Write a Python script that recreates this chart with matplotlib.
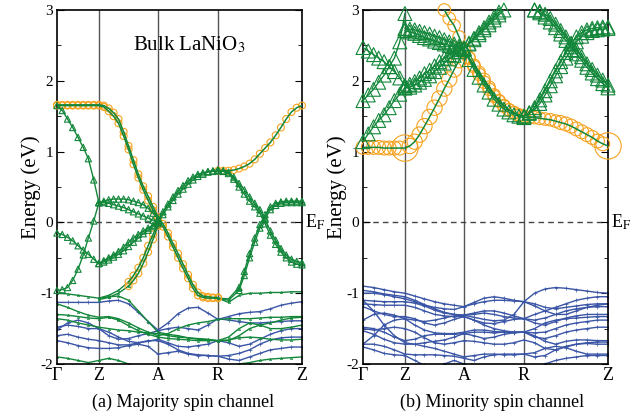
import matplotlib
matplotlib.use('Agg')
import matplotlib.pyplot as plt
import matplotlib.transforms as mtransforms
from matplotlib.ticker import MultipleLocator

plt.rcParams['font.family'] = ['Liberation Serif', 'DejaVu Serif']
plt.rcParams['mathtext.fontset'] = 'stix'
plt.rcParams['axes.unicode_minus'] = False

# k-path sampling along Gamma-Z-A-R-Z (fine grid for the weighted bands)
K_FINE = [0.0, 0.0214, 0.043, 0.064, 0.086, 0.107, 0.128, 0.150, 0.171,
          0.191, 0.211, 0.231, 0.251, 0.272, 0.292, 0.312, 0.332, 0.352, 0.372, 0.392, 0.412,
          0.4325, 0.453, 0.4735, 0.494, 0.5145, 0.535, 0.555, 0.575, 0.5955, 0.616, 0.6365, 0.657,
          0.6785, 0.700, 0.7215, 0.743, 0.7645, 0.786, 0.807, 0.828, 0.8495, 0.871, 0.8925,
          0.914, 0.9355, 0.957, 0.9785, 1.0]
K = K_FINE[::2]
SYM_IDX = [0, 8, 20, 32, 48]
SYM_LABELS = ['Γ', 'Z', 'A', 'R', 'Z']

# ---- majority spin ----
# weighted bands on K_FINE: (start index, energies in eV)
maj_circles = [
    (0, [1.65, 1.65, 1.65, 1.65, 1.65, 1.65, 1.65, 1.65, 1.65,
         1.63, 1.57, 1.50, 1.40, 1.22, 1.03, 0.82, 0.63, 0.46, 0.31, 0.17, 0.05,
         -0.06, -0.20, -0.35, -0.50, -0.65, -0.79, -0.93, -1.03, -1.06, -1.07, -1.07, -1.07]),
    (0, [1.66, 1.66, 1.66, 1.66, 1.66, 1.66, 1.66, 1.66, 1.66,
         1.65, 1.61, 1.55, 1.46, 1.28, 1.08, 0.88, 0.68, 0.51, 0.37, 0.22, 0.08,
         -0.02, -0.15, -0.30, -0.44, -0.59, -0.74, -0.88, -0.99, -1.04, -1.05, -1.06, -1.06]),
    (14, [-0.84, -0.75, -0.64, -0.50, -0.33, -0.17, -0.02]),
    (14, [-0.90, -0.82, -0.72, -0.58, -0.42, -0.24, -0.05]),
    (32, [0.73, 0.73, 0.73, 0.74, 0.76, 0.79, 0.83, 0.89, 0.97, 1.05, 1.13, 1.23, 1.34,
          1.46, 1.56, 1.62, 1.65]),
]
maj_tris = [
    (0, [1.65, 1.58, 1.46, 1.34, 1.20, 1.06, 0.90, 0.60, 0.28]),
    (0, [-0.96, -0.95, -0.92, -0.82, -0.66, -0.46, -0.22, 0.02, 0.28]),
    (0, [-0.15, -0.17, -0.21, -0.26, -0.33, -0.39, -0.45, -0.52, -0.58]),
    (8, [0.28, 0.30, 0.32, 0.33, 0.33, 0.33, 0.32, 0.30, 0.28, 0.25, 0.20, 0.13, 0.05]),
    (8, [0.28, 0.28, 0.27, 0.25, 0.23, 0.21, 0.18, 0.15, 0.12, 0.09, 0.06, 0.03, 0.00]),
    (8, [-0.58, -0.54, -0.50, -0.46, -0.41, -0.35, -0.28, -0.22, -0.17, -0.12, -0.08, -0.04, 0.00]),
    (8, [-0.58, -0.56, -0.53, -0.49, -0.45, -0.40, -0.34, -0.28, -0.22, -0.16, -0.11, -0.06, -0.02]),
    (20, [0.00, 0.11, 0.22, 0.31, 0.40, 0.47, 0.54, 0.60, 0.65, 0.68, 0.71, 0.72, 0.73]),
    (20, [0.03, 0.15, 0.26, 0.36, 0.45, 0.52, 0.59, 0.64, 0.68, 0.70, 0.72, 0.73, 0.74]),
    (32, [0.73, 0.72, 0.69, 0.61, 0.50, 0.40, 0.30, 0.22, 0.13, -0.02, -0.18, -0.31, -0.42,
          -0.50, -0.56, -0.59, -0.60]),
    (32, [0.74, 0.73, 0.71, 0.64, 0.55, 0.46, 0.36, 0.27, 0.18, 0.04, -0.12, -0.25, -0.37,
          -0.46, -0.52, -0.55, -0.57]),
    (36, [-0.96, -0.75, -0.50, -0.28, -0.08, 0.06, 0.18, 0.24, 0.27, 0.28, 0.28, 0.28, 0.28]),
    (36, [-0.92, -0.69, -0.44, -0.22, -0.03, 0.11, 0.22, 0.27, 0.29, 0.30, 0.30, 0.30, 0.30]),
]
# plain bands on K
maj_green = [
    (4, [-1.07, -1.03, -0.96, -0.84]),
    (4, [-1.09, -1.06, -1.00, -0.90]),
    (16, [-1.07, -1.10, -0.96]),
    (16, [-1.07, -1.08, -0.92]),
    (16, [-1.07, -1.13, -1.03, -1.00, -1.00, -0.99, -0.99, -0.98, -0.98]),
    (0, [-1.00, -1.01, -1.03, -1.05, -1.07, -1.05, -1.04, -1.10, -1.25, -1.40, -1.55,
         -1.58, -1.60, -1.63, -1.65, -1.66, -1.67, -1.67, -1.60, -1.50, -1.45, -1.42, -1.38, -1.35, -1.34]),
    (0, [-1.15, -1.20, -1.26, -1.31, -1.34, -1.33, -1.36, -1.42, -1.49, -1.55, -1.60,
         -1.57, -1.50, -1.45, -1.42, -1.40, -1.37, -1.36, -1.36, -1.36, -1.35, -1.34, -1.34, -1.33, -1.33]),
    (0, [-1.30, -1.31, -1.33, -1.35, -1.36, -1.34, -1.38, -1.46, -1.53, -1.58, -1.62,
         -1.64, -1.65, -1.66, -1.67, -1.67, -1.67, -1.62, -1.50, -1.42, -1.45, -1.50, -1.50, -1.48, -1.45]),
    (0, [-1.36, -1.38, -1.42, -1.45, -1.48, -1.50, -1.52, -1.53, -1.55, -1.56, -1.57,
         -1.60, -1.62, -1.63, -1.64, -1.65, -1.67, -1.66, -1.63, -1.62, -1.63, -1.65, -1.66, -1.66, -1.65]),
    (0, [-1.90, -1.92, -1.95, -1.98, -1.95, -1.92, -1.95, -2.00, -2.05, -2.08, -2.10,
         -2.10, -2.10, -2.10, -2.08, -2.06, -2.05, -2.05, -2.00, -1.98, -1.95, -1.93, -1.92, -1.91, -1.90]),
]
maj_blue = [
    (0, [-1.13, -1.13, -1.13, -1.13, -1.13, -1.11, -1.10, -1.15, -1.27, -1.40, -1.52,
         -1.42, -1.29, -1.21, -1.20, -1.28, -1.37, -1.33, -1.29, -1.27, -1.26, -1.22, -1.17, -1.14, -1.12]),
    (0, [-1.48, -1.45, -1.47, -1.50, -1.50, -1.55, -1.62, -1.68, -1.70, -1.68, -1.65,
         -1.70, -1.75, -1.76, -1.74, -1.72, -1.67, -1.70, -1.75, -1.72, -1.65, -1.58, -1.53, -1.50, -1.50]),
    (0, [-1.60, -1.58, -1.62, -1.65, -1.67, -1.70, -1.73, -1.73, -1.70, -1.67, -1.67,
         -1.72, -1.80, -1.85, -1.87, -1.88, -1.89, -1.93, -1.95, -1.90, -1.85, -1.80, -1.78, -1.76, -1.76]),
    (0, [-1.67, -1.70, -1.74, -1.77, -1.78, -1.78, -1.77, -1.74, -1.72, -1.75, -1.86,
         -1.84, -1.82, -1.86, -1.88, -1.88, -1.89, -1.88, -1.85, -1.80, -1.72, -1.66, -1.63, -1.62, -1.62]),
    (0, [-1.52, -1.42, -1.38, -1.42, -1.50, -1.60, -1.65, -1.64, -1.60, -1.57, -1.53,
         -1.50, -1.48, -1.50, -1.52, -1.45, -1.36, -1.38, -1.40, -1.42, -1.42, -1.41, -1.40, -1.39, -1.39]),
]

# ---- minority spin ----
min_circles = [
    (0, [1.06, 1.06, 1.06, 1.06, 1.05, 1.05, 1.05, 1.05, 1.05,
         1.08, 1.14, 1.24, 1.36, 1.49, 1.62, 1.75, 1.89, 2.02, 2.16, 2.29, 2.42,
         2.32, 2.22, 2.12, 2.02, 1.91, 1.80, 1.72, 1.65, 1.59, 1.55, 1.51, 1.48,
         1.48, 1.48, 1.47, 1.46, 1.45, 1.43, 1.41, 1.39, 1.36, 1.32, 1.28, 1.24, 1.20, 1.15, 1.11, 1.08]),
    (16, [3.00, 2.88, 2.78, 2.62, 2.45, 2.33, 2.20, 2.09, 1.98, 1.88, 1.78, 1.71, 1.64,
          1.59, 1.55, 1.52, 1.50]),
]
min_circle_ms = [
    [10, 10, 10, 10, 10, 10, 10, 10, 19,
     11, 11, 11, 11, 11, 11, 11, 11, 11, 11, 11, 10,
     9, 9, 9, 9, 9, 9, 9, 9, 9, 9, 9, 9,
     9, 9, 9, 9, 9, 9, 10, 10, 10, 10, 10, 10, 10, 10, 10, 19],
    9,
]
min_tris = [
    (0, [2.47, 2.42, 2.37, 2.32, 2.27, 2.20, 2.13, 2.04, 1.93]),
    (0, [1.72, 1.80, 1.88, 1.98, 2.08, 2.20, 2.32, 2.55, 2.95]),
    (0, [1.14, 1.25, 1.35, 1.44, 1.52, 1.62, 1.72, 1.81, 1.90]),
    (8, [2.74, 2.73, 2.72, 2.70, 2.68, 2.66, 2.63, 2.61, 2.58, 2.55, 2.52, 2.49, 2.46]),
    (8, [2.71, 2.69, 2.67, 2.64, 2.61, 2.59, 2.56, 2.54, 2.52, 2.50, 2.48, 2.46, 2.45]),
    (8, [1.90, 1.91, 1.94, 1.98, 2.02, 2.07, 2.13, 2.19, 2.25, 2.31, 2.36, 2.41, 2.45]),
    (8, [1.93, 1.95, 1.99, 2.04, 2.10, 2.15, 2.21, 2.27, 2.32, 2.37, 2.41, 2.44, 2.46]),
    (20, [2.45, 2.52, 2.58, 2.65, 2.72, 2.79, 2.86, 2.93, 3.00]),
    (20, [2.46, 2.53, 2.60, 2.68, 2.75, 2.83, 2.90, 2.97]),
    (20, [2.44, 2.30, 2.16, 2.05, 1.94, 1.84, 1.74, 1.67, 1.60, 1.56, 1.52, 1.50, 1.48]),
    (32, [1.50, 1.55, 1.62, 1.73, 1.86, 2.00, 2.14, 2.27, 2.40, 2.52, 2.62, 2.68, 2.72,
          2.74, 2.75, 2.76, 2.76]),
    (32, [1.50, 1.54, 1.59, 1.68, 1.80, 1.93, 2.07, 2.20, 2.32, 2.44, 2.55, 2.63, 2.68,
          2.71, 2.72, 2.73, 2.74]),
    (34, [3.00, 2.96, 2.90, 2.83, 2.75, 2.66, 2.57, 2.48, 2.38, 2.29, 2.19, 2.11, 2.03, 1.96, 1.90]),
    (34, [3.00, 2.98, 2.94, 2.88, 2.80, 2.71, 2.62, 2.53, 2.43, 2.34, 2.24, 2.16, 2.08, 2.01, 1.94]),
]
min_green = []
min_blue = [
    (0, [-0.90, -0.92, -0.95, -0.98, -1.00, -1.04, -1.08, -1.12, -1.15, -1.17, -1.19,
         -1.13, -1.07, -1.05, -1.07, -1.10, -1.12, -1.00, -0.94, -0.92, -0.93, -0.95, -0.97, -0.99, -1.00]),
    (0, [-0.96, -0.98, -1.01, -1.03, -1.05, -1.10, -1.16, -1.22, -1.27, -1.30, -1.31,
         -1.28, -1.25, -1.25, -1.28, -1.32, -1.36, -1.30, -1.25, -1.20, -1.15, -1.10, -1.07, -1.05, -1.05]),
    (0, [-1.10, -1.11, -1.12, -1.12, -1.12, -1.14, -1.18, -1.24, -1.28, -1.30, -1.31,
         -1.34, -1.37, -1.39, -1.38, -1.30, -1.12, -1.15, -1.20, -1.22, -1.20, -1.18, -1.16, -1.15, -1.15]),
    (0, [-1.15, -1.16, -1.17, -1.17, -1.17, -1.20, -1.25, -1.30, -1.32, -1.33, -1.33,
         -1.38, -1.42, -1.43, -1.40, -1.37, -1.36, -1.38, -1.35, -1.30, -1.25, -1.22, -1.20, -1.19, -1.19]),
    (0, [-1.19, -1.25, -1.30, -1.33, -1.33, -1.36, -1.42, -1.45, -1.42, -1.37, -1.33,
         -1.38, -1.45, -1.50, -1.53, -1.55, -1.55, -1.50, -1.42, -1.38, -1.36, -1.35, -1.34, -1.33, -1.33]),
    (0, [-1.38, -1.30, -1.28, -1.31, -1.36, -1.45, -1.52, -1.56, -1.57, -1.57, -1.55,
         -1.52, -1.52, -1.54, -1.55, -1.55, -1.55, -1.56, -1.55, -1.50, -1.45, -1.42, -1.40, -1.38, -1.38]),
    (0, [-1.48, -1.50, -1.55, -1.62, -1.67, -1.65, -1.60, -1.58, -1.58, -1.58, -1.57,
         -1.60, -1.64, -1.62, -1.58, -1.56, -1.55, -1.60, -1.68, -1.72, -1.68, -1.66, -1.66, -1.67, -1.67]),
    (0, [-1.53, -1.58, -1.65, -1.70, -1.72, -1.72, -1.75, -1.78, -1.82, -1.86, -1.90,
         -1.88, -1.86, -1.86, -1.87, -1.87, -1.86, -1.90, -1.88, -1.80, -1.75, -1.72, -1.71, -1.72, -1.72]),
    (0, [-1.72, -1.72, -1.75, -1.80, -1.86, -1.87, -1.87, -1.87, -1.88, -1.89, -1.92,
         -1.95, -1.90, -1.87, -1.86, -1.86, -1.86, -1.84, -1.78, -1.75, -1.77, -1.82, -1.86, -1.86, -1.86]),
    (0, [-1.76, -1.80, -1.85, -1.87, -1.88, -1.95, -2.02, -2.05, -2.00, -1.95, -2.00,
         -2.05, -2.08, -2.08, -2.06, -2.05, -2.05, -2.05, -2.00, -1.95, -1.92, -1.90, -1.88, -1.88, -1.88]),
    (0, [-1.10, -1.25, -1.45, -1.60, -1.70, -1.72, -1.70, -1.68, -1.66, -1.62, -1.57,
         -1.55, -1.55, -1.56, -1.55, -1.55, -1.55, -1.62, -1.64, -1.60, -1.55, -1.52, -1.50, -1.48, -1.48]),
    (0, [-1.72, -1.60, -1.45, -1.38, -1.36, -1.38, -1.40, -1.38, -1.35, -1.32, -1.31,
         -1.30, -1.28, -1.30, -1.33, -1.35, -1.36, -1.42, -1.45, -1.40, -1.35, -1.32, -1.30, -1.30, -1.30]),
    (0, [-1.00, -1.00, -1.02, -1.05, -1.08, -1.12, -1.17, -1.20, -1.22, -1.23, -1.19,
         -1.15, -1.12, -1.10, -1.10, -1.11, -1.12, -1.18, -1.25, -1.30, -1.30, -1.25, -1.20, -1.17, -1.15]),
    (0, [-1.50, -1.52, -1.50, -1.48, -1.50, -1.55, -1.63, -1.70, -1.72, -1.70, -1.67,
         -1.68, -1.70, -1.72, -1.72, -1.70, -1.66, -1.70, -1.78, -1.80, -1.76, -1.72, -1.70, -1.69, -1.69]),
]

ORANGE = '#F5A21E'
GREEN = '#12873A'
BLUE = '#3A55A6'


def draw_panel(ax, circles, circle_ms, tris, tri_ms, green, blue):
    for start, e in blue:
        ax.plot(K[start:start + len(e)], e, color=BLUE, lw=1.0, marker='+', ms=2.2, mew=0.5, zorder=2)
    for start, e in green:
        ax.plot(K[start:start + len(e)], e, color=GREEN, lw=1.0, marker='^', ms=1.6, mew=0.5,
                mfc='none', zorder=2)
    for (start, e), ms in zip(circles, circle_ms):
        ks = K_FINE[start:start + len(e)]
        sizes = [m ** 2 for m in ms] if isinstance(ms, list) else ms ** 2
        ax.scatter(ks, e, s=sizes, facecolors='none', edgecolors=ORANGE,
                   linewidths=0.8, zorder=3, clip_on=False)
        ax.plot(ks, e, color=GREEN, lw=1.1, zorder=4)
    for start, e in tris:
        ks = K_FINE[start:start + len(e)]
        ax.scatter(ks, e, s=tri_ms ** 2, marker='^', facecolors='none',
                   edgecolors=GREEN, linewidths=0.8, zorder=5, clip_on=False)
        ax.plot(ks, e, color=GREEN, lw=1.0, zorder=5)

    sym = [K_FINE[i] for i in SYM_IDX]
    for k in sym[1:-1]:
        ax.axvline(k, color='#555555', lw=1.0, zorder=1)
    ax.axhline(0, color='#444444', lw=1.0, ls=(0, (4, 3)), zorder=1)

    ax.set_xlim(0, 1)
    ax.set_ylim(-2, 3)
    ax.set_xticks(sym)
    ax.set_xticklabels(SYM_LABELS, fontsize=13)
    ax.tick_params(axis='x', length=0, pad=2)
    ax.yaxis.set_major_locator(MultipleLocator(1))
    ax.yaxis.set_minor_locator(MultipleLocator(0.5))
    ax.tick_params(axis='y', which='both', direction='in', right=True, labelsize=11, pad=3)
    ax.tick_params(axis='y', which='major', length=5)
    ax.tick_params(axis='y', which='minor', length=3)
    for sp in ax.spines.values():
        sp.set_linewidth(1.2)
    ax.set_ylabel('Energy (eV)', fontsize=15, labelpad=-1)

    trans = mtransforms.blended_transform_factory(ax.transAxes, ax.transData)
    ax.text(1.012, 0, 'E$_\\mathrm{F}$', transform=trans, ha='left', va='center', fontsize=13)


fig = plt.figure(figsize=(6.4, 4.18), dpi=100)
ax1 = fig.add_axes([57 / 640, 1 - 364 / 418, 245 / 640, 354 / 418])
ax2 = fig.add_axes([363 / 640, 1 - 364 / 418, 245 / 640, 354 / 418])

draw_panel(ax1, maj_circles, [5] * len(maj_circles), maj_tris, 4.5, maj_green, maj_blue)
draw_panel(ax2, min_circles, min_circle_ms, min_tris, 10, min_green, min_blue)

ax1.text(0.54, 0.90, 'Bulk LaNiO$_3$', transform=ax1.transAxes, ha='center', va='center', fontsize=15)

fig.text(183 / 640, 1 - 402 / 418, '(a) Majority spin channel', ha='center', va='center', fontsize=13)
fig.text(492 / 640, 1 - 402 / 418, '(b) Minority spin channel', ha='center', va='center', fontsize=13)

fig.savefig('out.png', dpi=100)
